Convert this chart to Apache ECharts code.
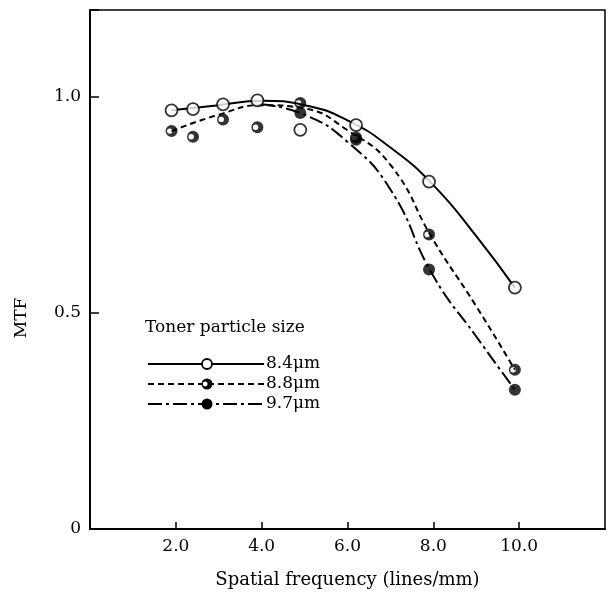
<!DOCTYPE html>
<html><head><meta charset="utf-8">
<script src="https://cdn.jsdelivr.net/npm/echarts@6/dist/echarts.min.js"></script>
<style>html,body{margin:0;padding:0;background:#fff}#c{width:608px;height:594px}</style>
</head><body><div id="c"></div>
<script>
// measured points
const freq   = [1.9, 2.4, 3.1, 3.9, 4.9, 6.2, 7.9, 9.9];
const mtf84  = [0.968, 0.971, 0.982, 0.991, 0.923, 0.934, 0.803, 0.558];
const mtf88  = [0.920, 0.907, 0.947, 0.929, 0.985, 0.905, 0.681, 0.368];
const mtf97  = [null, null, null, null, 0.962, 0.900, 0.600, 0.322];
// fitted curves as drawn
const curveX84 = [1.9, 3.0, 4.0, 5.0, 6.0, 7.0, 8.0, 9.0, 9.9];
const fit84    = [0.968, 0.980, 0.990, 0.980, 0.945, 0.882, 0.795, 0.677, 0.558];
const curveX88 = [1.9, 3.0, 4.0, 5.0, 6.0, 7.0, 8.0, 9.0, 9.9];
const fit88    = [0.920, 0.958, 0.980, 0.972, 0.922, 0.842, 0.668, 0.515, 0.368];
const curveX97 = [4.0, 5.0, 6.0, 7.0, 8.0, 9.0, 9.9];
const fit97    = [0.982, 0.958, 0.895, 0.785, 0.585, 0.445, 0.322];
const xTicks = ['2.0', '4.0', '6.0', '8.0', '10.0'];
const yTicks = ['0', '0.5', '1.0'];
const legendTitle = 'Toner particle size';
const seriesNames = ['8.4\u03bcm', '8.8\u03bcm', '9.7\u03bcm'];

const FONT = "'DejaVu Serif', 'Liberation Serif', serif";
// dark disc with a small white spot on the left (partly filled marker)
const halfPath = 'path://M0,-10A10,10 0 1,1 0,10A10,10 0 1,1 0,-10Z M-3,-4.5A4.5,4.5 0 1,0 -3,4.5A4.5,4.5 0 1,0 -3,-4.5Z';
const pairs = (xs, ys) => xs.map((x, i) => [x, ys[i]]).filter(p => p[1] != null);

const chart = echarts.init(document.getElementById('c'), null, {renderer: 'canvas'});
const black = '#000';
const openSym = {symbol: 'circle', symbolSize: 12, itemStyle: {color: '#fff', borderColor: black, borderWidth: 1.8}};
const halfSym = {symbol: halfPath, symbolSize: 12, itemStyle: {color: black}};
const fullSym = {symbol: 'circle', symbolSize: 12, itemStyle: {color: black}};

function fmtX(v){ const i = [2,4,6,8,10].indexOf(v); return i >= 0 ? xTicks[i] : ''; }
function fmtY(v){ const i = [0,0.5,1].findIndex(t => Math.abs(t - v) < 1e-6); return i >= 0 ? yTicks[i] : ''; }

// legend drawn as graphic
const lx0 = 148, lx1 = 264, lmx = 207, ly = [364, 384, 404];
const dashes = [null, [6, 4], [14, 4, 3, 4]];
const legendGraphics = [{type: 'text', x: 145, y: 328, style: {text: legendTitle, font: '17px ' + FONT, fill: black, verticalAlign: 'middle'}}];
for (let i = 0; i < 3; i++) {
  legendGraphics.push({type: 'line', shape: {x1: lx0, y1: ly[i], x2: lx1, y2: ly[i]}, style: {stroke: black, lineWidth: 2, lineDash: dashes[i]}});
  legendGraphics.push({type: 'text', x: lx1 + 2, y: ly[i], style: {text: seriesNames[i], font: '17px ' + FONT, fill: black, verticalAlign: 'middle'}});
}
legendGraphics.push({type: 'circle', shape: {cx: lmx, cy: ly[0], r: 5}, style: {fill: '#fff', stroke: black, lineWidth: 1.8}, z: 100});
legendGraphics.push({type: 'circle', shape: {cx: lmx, cy: ly[1], r: 5.5}, style: {fill: black}, z: 100});
legendGraphics.push({type: 'circle', shape: {cx: lmx - 1.8, cy: ly[1], r: 2.4}, style: {fill: '#fff'}, z: 101});
legendGraphics.push({type: 'circle', shape: {cx: lmx, cy: ly[2], r: 5.5}, style: {fill: black}, z: 100});
legendGraphics.push({type: 'text', x: 22, y: 318, rotation: Math.PI / 2, style: {text: 'MTF', font: '17px ' + FONT, fill: black, align: 'center', verticalAlign: 'middle'}});

chart.setOption({
  animation: false,
  backgroundColor: '#fff',
  grid: {left: 90, right: 3, top: 10, bottom: 64, show: true, borderColor: black, borderWidth: 1.5, backgroundColor: 'transparent'},
  xAxis: {
    type: 'value', min: 0, max: 12, interval: 2,
    name: 'Spatial frequency (lines/mm)', nameLocation: 'middle', nameGap: 42,
    nameTextStyle: {fontFamily: FONT, fontSize: 18, color: black},
    axisLine: {lineStyle: {color: black, width: 2}},
    axisTick: {inside: true, length: 7, lineStyle: {color: black, width: 1.5}},
    axisLabel: {formatter: fmtX, fontFamily: FONT, fontSize: 17, color: black, margin: 9, showMinLabel: false, showMaxLabel: false},
    splitLine: {show: false}
  },
  yAxis: {
    type: 'value', min: 0, max: 1.2, interval: 0.5,
    axisLine: {lineStyle: {color: black, width: 2}},
    axisTick: {inside: true, length: 9, lineStyle: {color: black, width: 1.5}},
    axisLabel: {formatter: fmtY, fontFamily: FONT, fontSize: 17, color: black, margin: 9},
    splitLine: {show: false}
  },
  graphic: legendGraphics,
  series: [
    {type: 'line', name: 'fit84', data: pairs(curveX84, fit84), smooth: 0.5, showSymbol: false, lineStyle: {color: black, width: 2}, z: 2},
    {type: 'line', name: 'fit88', data: pairs(curveX88, fit88), smooth: 0.5, showSymbol: false, lineStyle: {color: black, width: 2, type: [6, 4]}, z: 2},
    {type: 'line', name: 'fit97', data: pairs(curveX97, fit97), smooth: 0.5, showSymbol: false, lineStyle: {color: black, width: 2, type: [14, 4, 3, 4]}, z: 2},
    Object.assign({type: 'scatter', name: seriesNames[0], data: pairs(freq, mtf84), z: 5}, openSym),
    Object.assign({type: 'scatter', name: seriesNames[1], data: pairs(freq, mtf88), z: 4}, halfSym),
    Object.assign({type: 'scatter', name: seriesNames[2], data: pairs(freq, mtf97), z: 3}, fullSym)
  ]
});
</script></body></html>
